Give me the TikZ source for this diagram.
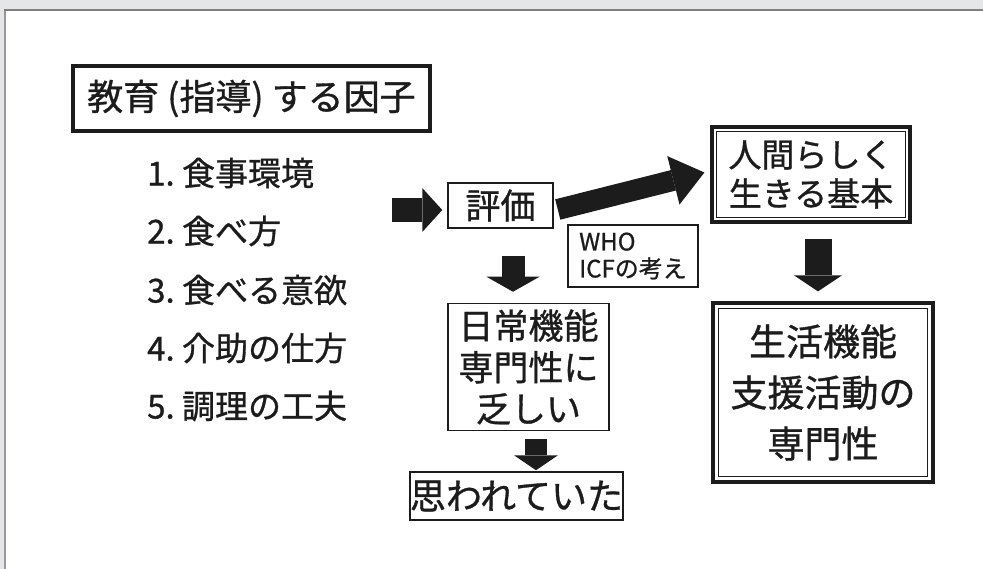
\documentclass[tikz,border=0pt]{standalone}
\usepackage{fontspec}
\newfontfamily\jp{Noto Sans CJK JP}[FakeBold=0.9]
\usetikzlibrary{arrows.meta}
\definecolor{bg}{HTML}{E5E6E8}
\definecolor{ink}{HTML}{1C1C1C}
\definecolor{frame}{HTML}{7E7E7E}
\tikzset{
  thinbox/.style={draw=ink, line width=1.5pt, fill=white, inner sep=0pt, text=ink, align=center},
  thickbox/.style={draw=ink, line width=4pt, fill=white, inner sep=0pt, text=ink, align=center},
  dblbox/.style={draw=ink, line width=3.2pt, fill=white, inner sep=0pt, text=ink, align=center},
  listitem/.style={anchor=west, inner sep=0pt, text=ink, font=\jp\fontsize{33}{38}\selectfont},
  blockarrow/.style={draw=ink, line width=#1, line cap=butt},
}
\begin{document}
\begin{tikzpicture}[x=1pt,y=-1pt]
\useasboundingbox (0,0) rectangle (983,569);
\clip (0,0) rectangle (983,569);
% background and panel
\fill[bg] (0,0) rectangle (983,569);
\fill[white] (5,10) rectangle (995,580);
\draw[frame!80, line width=1.5pt] (5,580) -- (5,10.5);
\draw[frame, line width=2pt] (4.3,10) -- (995,10);

% title
\node[thickbox, minimum width=357pt, minimum height=65pt, font=\jp\fontsize{36}{40}\selectfont]
  (title) at (251.5,98.5) {教育 (指導) する因子};

% list
\node[listitem] (l1) at (147,173) {1.\ 食事環境};
\node[listitem] (l2) at (147,231) {2.\ 食べ方};
\node[listitem] (l3) at (147,290) {3.\ 食べる意欲};
\node[listitem] (l4) at (147,348) {4.\ 介助の仕方};
\node[listitem] (l5) at (147,406) {5.\ 調理の工夫};
\coordinate (listout) at (392,210);

% boxes
\node[thinbox, minimum width=105pt, minimum height=45pt, font=\jp\fontsize{35}{40}\selectfont]
  (hyoka) at (500.5,205.5) {評価};
\node[thinbox, minimum width=130pt, minimum height=62pt, align=left, font=\jp\fontsize{24}{27}\selectfont]
  (who) at (633,256) {WHO\\ICFの考え};
\node[thinbox, minimum width=161pt, minimum height=127pt, font=\jp\fontsize{35}{41.5}\selectfont]
  (nichijo) at (528.5,367) {日常機能\\専門性に\\乏しい};
\node[thinbox, minimum width=209pt, minimum height=48pt, font=\jp\fontsize{36}{40}\selectfont]
  (omoware) at (516.5,496) {思われていた};
\node[dblbox, minimum width=198pt, minimum height=95pt, font=\jp\fontsize{33}{39}\selectfont]
  (ningen) at (811,174.5) {人間らしく\\生きる基本};
\draw[ink, line width=1.2pt] ([shift={(6,6)}]ningen.north west) rectangle ([shift={(-6,-6)}]ningen.south east);
\node[dblbox, minimum width=220pt, minimum height=179pt, font=\jp\fontsize{37}{51}\selectfont]
  (seikatsu) at (823,392.5) {生活機能\\支援活動の\\専門性};
\draw[ink, line width=1.4pt] ([shift={(7,7)}]seikatsu.north west) rectangle ([shift={(-7,-7)}]seikatsu.south east);

% arrows
\draw[blockarrow=24pt, -{Triangle[length=20pt,width=44pt,line width=0pt]}]
  (listout) -- ([shift={(-5,4.5)}]hyoka.west);
\draw[blockarrow=21pt, -{Triangle[length=32pt,width=50pt,line width=0pt]}]
  ([shift={(4,4)}]hyoka.east) -- ([shift={(-6,-2)}]ningen.west);
\draw[blockarrow=23pt, -{Triangle[length=15pt,width=53pt,line width=0pt]}]
  ([shift={(12.5,27)}]hyoka.south) -- ([shift={(-15.5,-11)}]nichijo.north);
\draw[blockarrow=22pt, -{Triangle[length=15pt,width=44pt,line width=0pt]}]
  ([shift={(7.5,8)}]nichijo.south) -- ([shift={(19.5,-1)}]omoware.north);
\draw[blockarrow=27pt, -{Triangle[length=16pt,width=48pt,line width=0pt]}]
  ([shift={(7,15)}]ningen.south) -- ([shift={(-5,-10)}]seikatsu.north);
\end{tikzpicture}
\end{document}
